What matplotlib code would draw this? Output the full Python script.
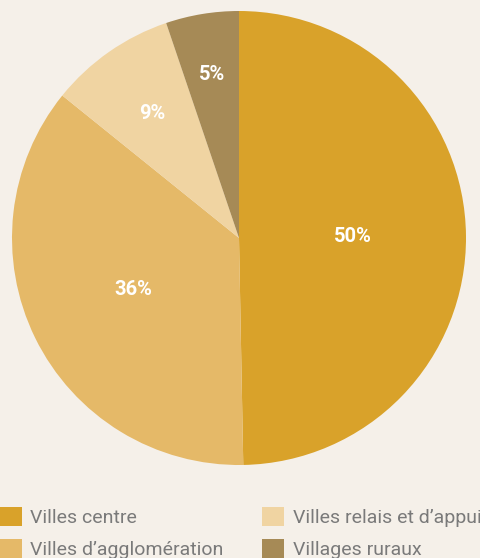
import numpy as np
import matplotlib.pyplot as plt
from matplotlib.patches import Patch

categories = ["Villes centre", "Villes d\u2019agglomération",
              "Villes relais et d\u2019appui", "Villages ruraux"]
shares = [49.7, 36.1, 9.0, 5.2]
colors = ["#d9a22a", "#e5b968", "#f0d4a2", "#a68a56"]
label_dist = [0.50, 0.52, 0.67, 0.73]

bg = "#f5f0e9"

fig = plt.figure(figsize=(4.81, 5.58), dpi=100, facecolor=bg)
ax = fig.add_axes([12 / 481, 1 - 465 / 558, 454 / 481, 454 / 558])
ax.set_facecolor(bg)

wedges, _ = ax.pie(shares, colors=colors, startangle=90, counterclock=False,
                   radius=1.0, wedgeprops=dict(linewidth=0))

# percentage labels, each at its own distance along the wedge bisector
for w, val, d in zip(wedges, shares, label_dist):
    mid = np.deg2rad((w.theta1 + w.theta2) / 2)
    ax.text(d * np.cos(mid), d * np.sin(mid), f"{val:.0f}%",
            ha="center", va="center", color="white",
            fontsize=14.5, fontweight="bold", family="Roboto")

ax.set_xlim(-1, 1)
ax.set_ylim(-1, 1)
ax.set_aspect("equal")
ax.axis("off")

handles = [Patch(facecolor=c, edgecolor="none") for c in colors]
leg = fig.legend(handles, categories, ncol=2, loc="lower left",
                 bbox_to_anchor=(0, -1 / 558), frameon=False,
                 borderpad=0, borderaxespad=0,
                 handlelength=1.13, handleheight=1.13, handletextpad=0.42,
                 columnspacing=2.0, labelspacing=0.62,
                 prop=dict(family="Roboto", size=14))
for t in leg.get_texts():
    t.set_color("#7a7a7a")

fig.savefig("out.png", dpi=100, facecolor=bg)
